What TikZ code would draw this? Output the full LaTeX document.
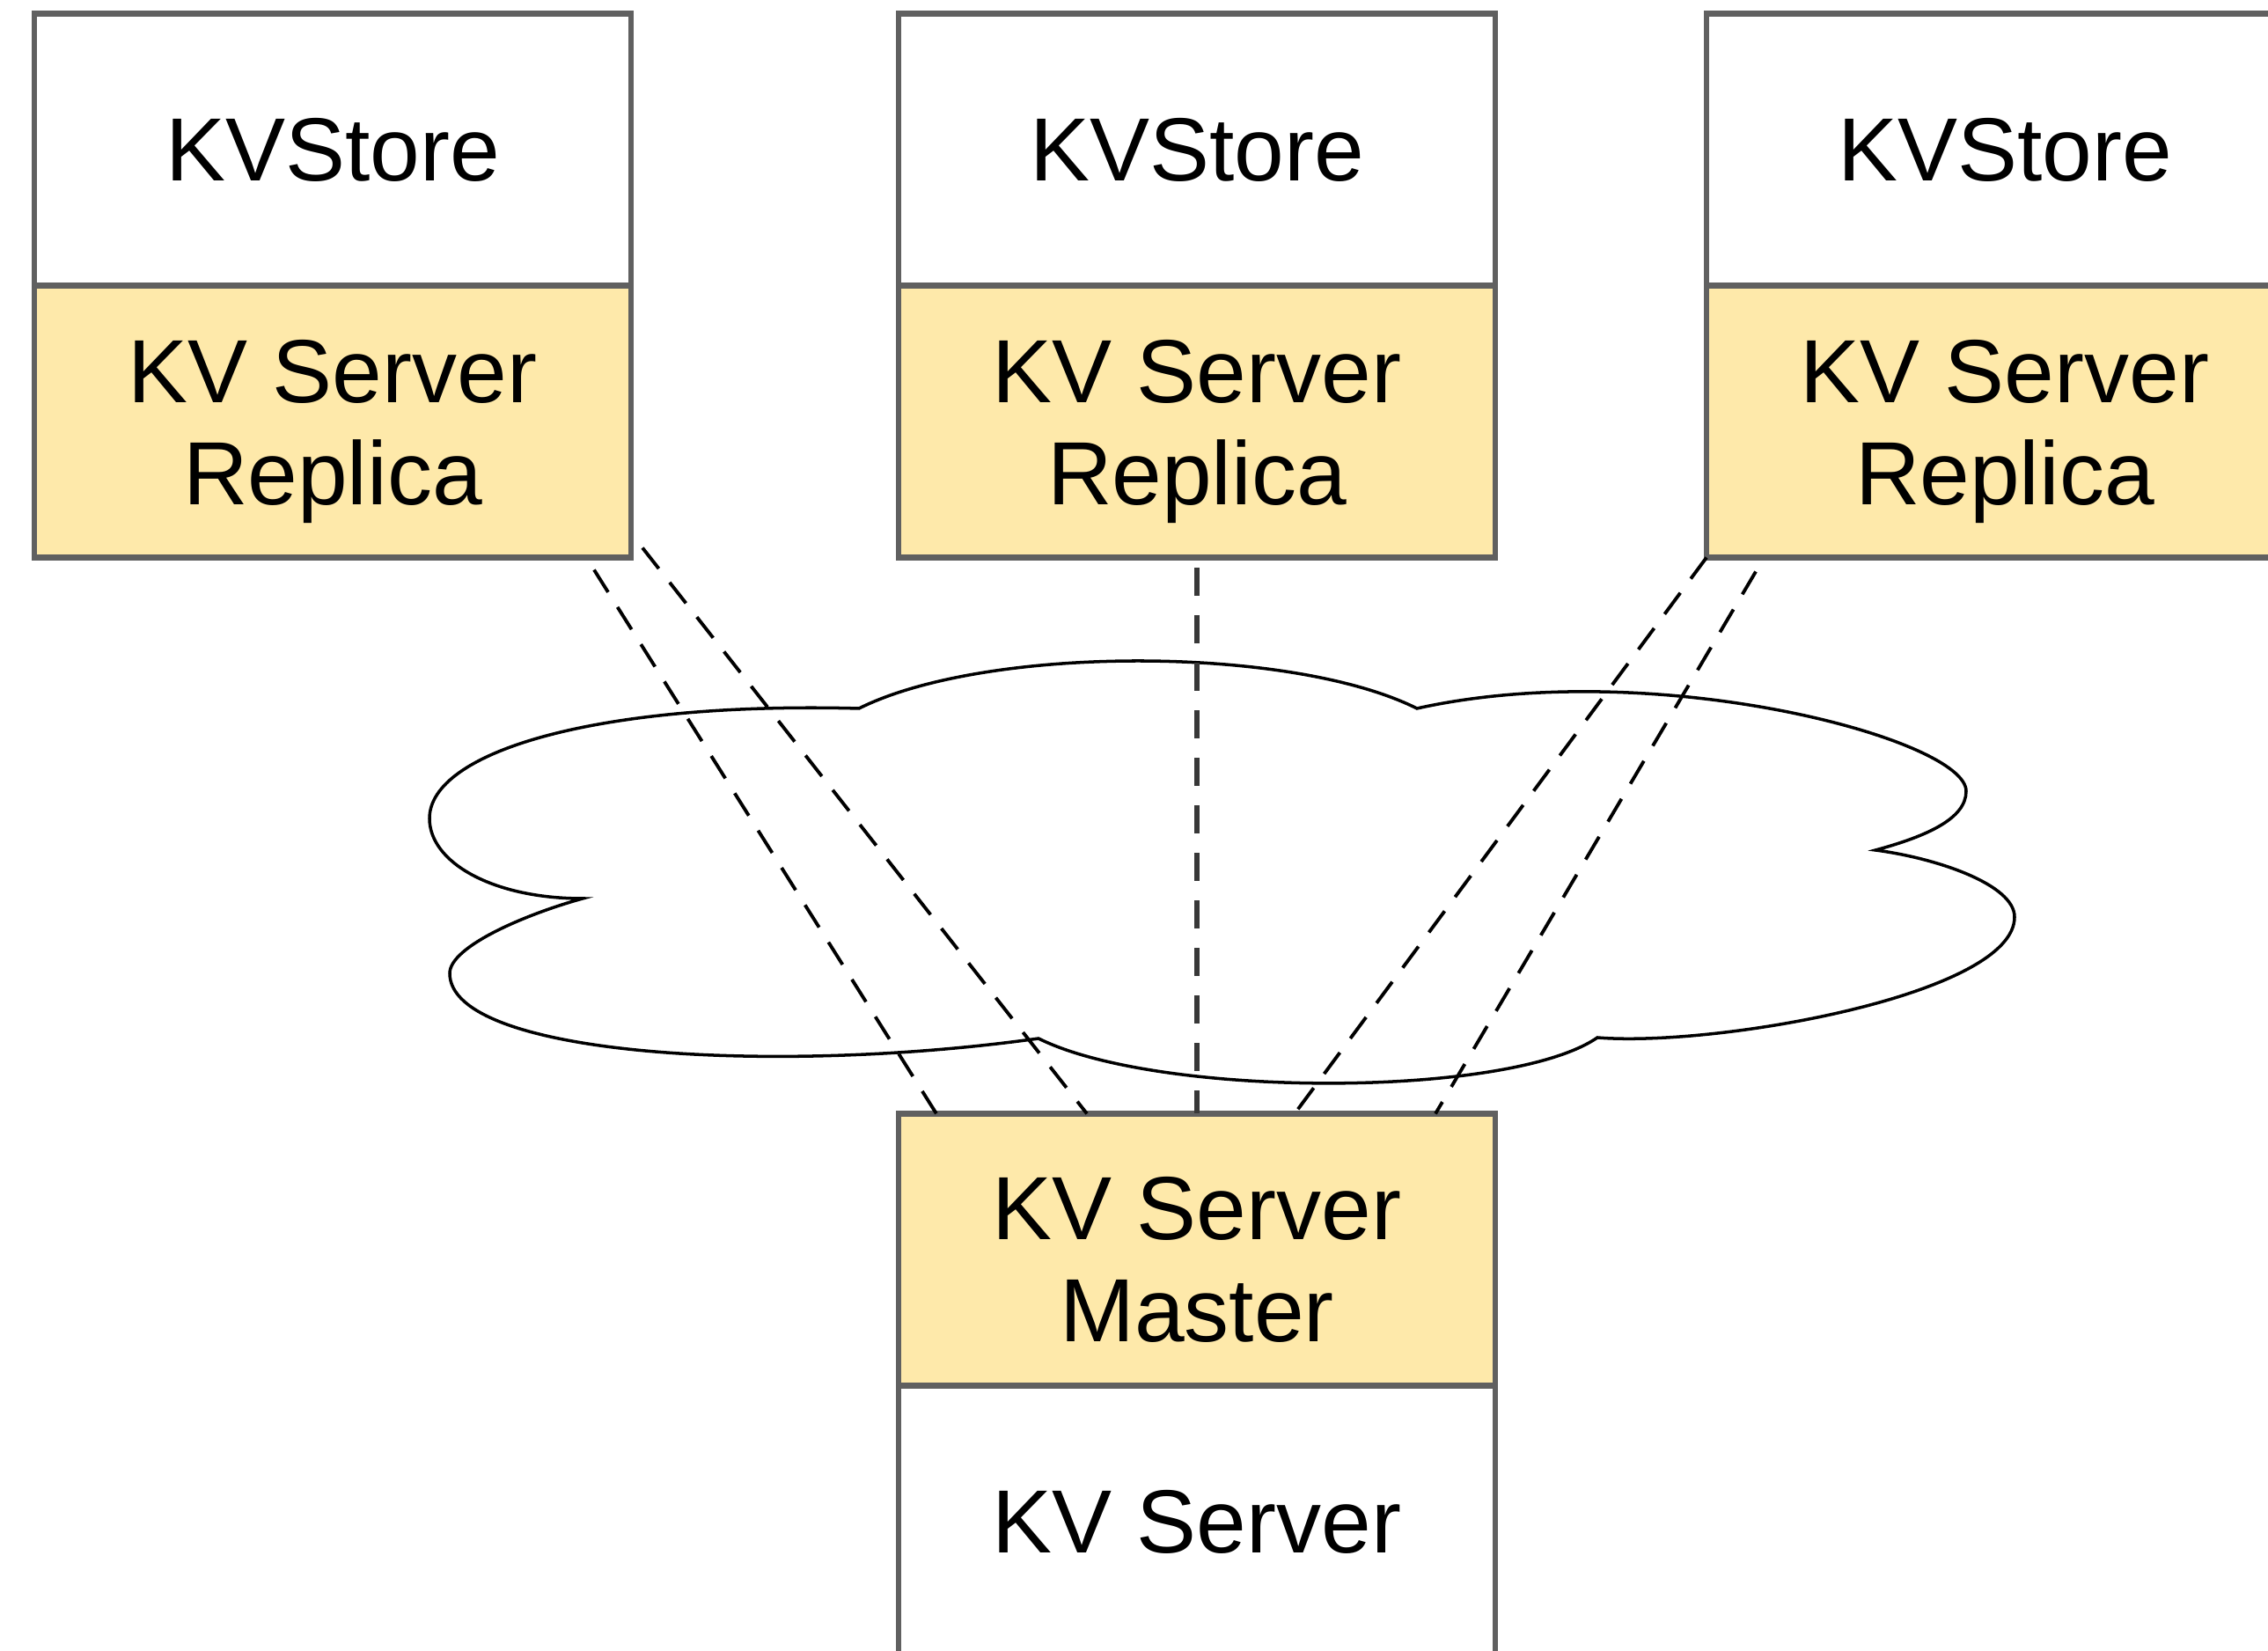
\documentclass[tikz,border=0pt]{standalone}
\usepackage{fontspec}
\setmainfont{Liberation Sans}
\usetikzlibrary{positioning}
\definecolor{boxgray}{RGB}{96,96,96}
\definecolor{serveryellow}{RGB}{254,233,170}
\newcommand{\lowstrut}{\rule{0pt}{27pt}}

\begin{document}
\begin{tikzpicture}[
  cell/.style={draw=boxgray,line width=1.8pt,minimum width=6.78cm,minimum height=3.09cm,
    align=center,inner sep=0pt,outer sep=0pt,font=\fontsize{29}{33}\selectfont},
  storecell/.style={cell,fill=white},
  servercell/.style={cell,fill=serveryellow},
  link/.style={line width=1.1pt,dash pattern=on 0.3cm off 0.2cm},
  mainlink/.style={line width=1.8pt,draw=black!78,dash pattern=on 0.32cm off 0.22cm}
]
\useasboundingbox (0,0) rectangle (25.77,18.76);
\clip (0,0) rectangle (25.77,18.76);

% network cloud
\draw[line width=1pt,fill=white] (9.76,10.71)
  .. controls (6.76,10.79) and (4.88,10.21) .. (4.88,9.46)
  .. controls (4.88,8.96) and (5.60,8.55) .. (6.62,8.55)
  .. controls (6.00,8.38) and (5.11,8.01) .. (5.11,7.70)
  .. controls (5.11,6.76) and (8.80,6.54) .. (11.80,6.96)
  .. controls (13.16,6.28) and (17.15,6.28) .. (18.15,6.97)
  .. controls (19.50,6.86) and (22.89,7.46) .. (22.89,8.34)
  .. controls (22.89,8.71) and (22.00,9.01) .. (21.31,9.10)
  .. controls (21.90,9.26) and (22.34,9.46) .. (22.34,9.77)
  .. controls (22.34,10.36) and (18.80,11.31) .. (16.10,10.71)
  .. controls (14.66,11.43) and (11.20,11.43) .. (9.76,10.71) -- cycle;

% replicas
\node[storecell] (store1) at (3.78,17.06) {KVStore};
\node[servercell,below=0pt of store1] (rep1) {\lowstrut KV Server\\Replica};
\node[storecell] (store2) at (13.60,17.06) {KVStore};
\node[servercell,below=0pt of store2] (rep2) {\lowstrut KV Server\\Replica};
\node[storecell] (store3) at (22.78,17.06) {KVStore};
\node[servercell,below=0pt of store3] (rep3) {\lowstrut KV Server\\Replica};

% master
\node[servercell] (master) at (13.60,4.56) {\lowstrut KV Server\\Master};
\node[storecell,below=0pt of master] (server) {KV Server};

% replication links
\draw[link] ([xshift=-0.42cm,yshift=-0.14cm]rep1.south east) -- ([xshift=0.43cm]master.north west);
\draw[link] ([xshift=0.13cm,yshift=0.11cm]rep1.south east) -- ([xshift=2.14cm]master.north west);
\draw[mainlink] ([yshift=-0.12cm]rep2.south) -- (master.north);
\draw[link] (rep3.south west) -- ([xshift=4.50cm]master.north west);
\draw[link] ([xshift=0.56cm,yshift=-0.16cm]rep3.south west) -- ([xshift=6.10cm]master.north west);
\end{tikzpicture}
\end{document}
